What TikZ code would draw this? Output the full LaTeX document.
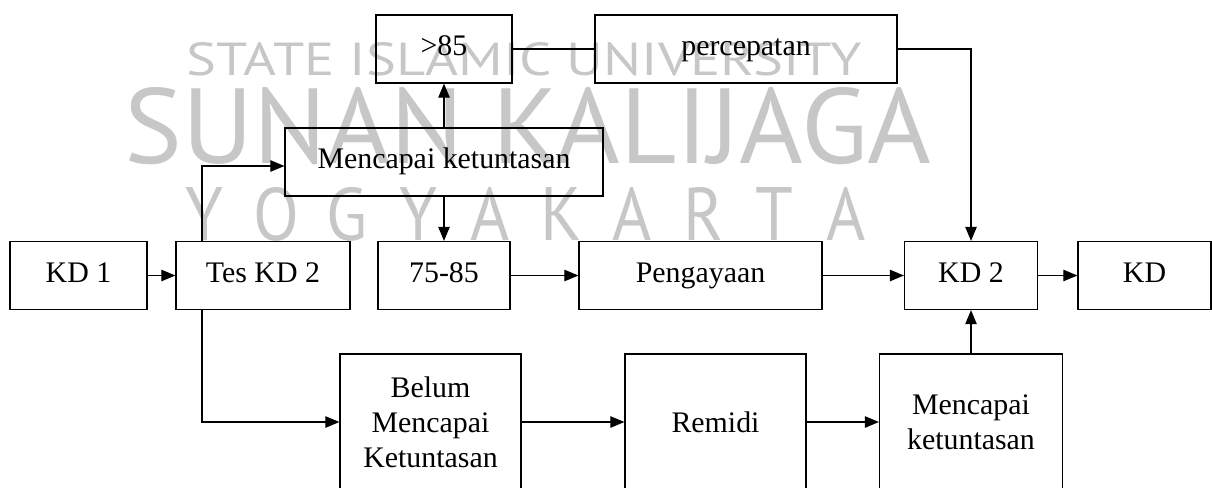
\documentclass[tikz,border=0pt]{standalone}
\usepackage{graphicx}
\usepackage{fontspec}
\setmainfont{Liberation Serif}
\newfontfamily\wmfont{PT Sans}
\usetikzlibrary{arrows.meta}

\begin{document}
\begin{tikzpicture}[x=0.02cm, y=-0.02cm,
    frame/.style={draw, line width=0.7pt, inner sep=2pt, font=\fontsize{17}{20}\selectfont},
    box/.style={frame, minimum height=1.36cm, text height=11.5pt, text depth=3.8pt},
    tall/.style={frame, minimum height=2.72cm, align=center},
    arrow/.style={line width=0.7pt, -{Triangle[length=8pt, width=6.5pt]}},
    link/.style={line width=0.7pt},
    wmark/.style={text=black!22, inner sep=0pt, font=\wmfont}
]
\useasboundingbox (0,0) rectangle (1212,487);

% Watermark
\node[wmark, anchor=base west] (wmsatu) at (186,75) {\resizebox{13.52cm}{0.66cm}{STATE ISLAMIC UNIVERSITY}};
\node[wmark, anchor=base west] (wmdua) at (124,163) {\resizebox{16.14cm}{1.52cm}{SUNAN KALIJAGA}};
\foreach \ch [count=\i from 0] in {Y,O,G,Y,A,K,A,R,T,A} {
    \node[wmark, anchor=base] at ({205+71.2*\i},240) {\resizebox{!}{1.06cm}{\scalebox{0.9}[1]{\ch}}};
}

% Main row
\node[box, minimum width=2.74cm] (kdsatu) at (78.5,275.5) {KD 1};
\node[box, minimum width=3.48cm] (tes) at (263,275.5) {Tes KD 2};
\node[box, minimum width=2.64cm] (nilai) at (444,275.5) {75-85};
\node[box, minimum width=4.86cm] (pengayaan) at (700.5,275.5) {Pengayaan};
\node[box, minimum width=2.66cm] (kddua) at (971,275.5) {KD 2};
\node[box, minimum width=2.66cm] (kd) at (1144.5,275.5) {KD};

% Upper branch
\node[box, minimum width=2.72cm] (atas) at (444,49) {>85};
\node[box, minimum width=6.04cm] (percepatan) at (746,49) {percepatan};
\node[box, minimum width=6.36cm] (tuntas) at (444,162) {Mencapai ketuntasan};

% Lower branch
\node[tall, minimum width=3.62cm] (belum) at (430.5,422) {Belum\\Mencapai\\Ketuntasan};
\node[tall, minimum width=3.62cm] (remidi) at (715.5,422) {Remidi};
\node[tall, minimum width=3.66cm] (tuntasdua) at (971,422) {Mencapai\\ketuntasan};

% Connectors
\draw[arrow] (kdsatu) -- (tes);
\draw[arrow] ([xshift=-1.22cm]tes.north) |- ([yshift=-0.08cm]tuntas.west);
\draw[arrow] (tuntas.north) -- (atas.south);
\draw[arrow] (tuntas.south) -- (nilai.north);
\draw[link] (atas.east) -- (percepatan.west);
\draw[arrow] (percepatan.east) -| (kddua.north);
\draw[arrow] (nilai) -- (pengayaan);
\draw[arrow] (pengayaan) -- (kddua);
\draw[arrow] (kddua) -- (kd);
\draw[arrow] ([xshift=-1.22cm]tes.south) |- (belum.west);
\draw[arrow] (belum) -- (remidi);
\draw[arrow] (remidi) -- (tuntasdua);
\draw[arrow] (tuntasdua.north) -- (kddua.south);

\end{tikzpicture}
\end{document}
